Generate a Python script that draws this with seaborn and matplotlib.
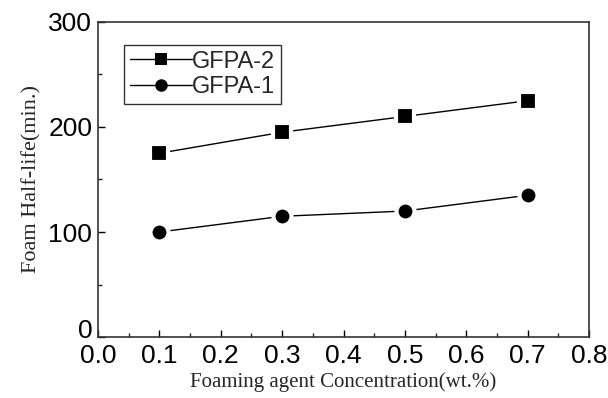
import matplotlib
matplotlib.use("Agg")
import matplotlib.pyplot as plt
import matplotlib.transforms as mtransforms
import seaborn as sns
import pandas as pd
from matplotlib.ticker import MultipleLocator

concentration = [0.1, 0.3, 0.5, 0.7]
gfpa2 = [175, 195, 210, 225]
gfpa1 = [100, 115, 120, 135]
series_names = ["GFPA-2", "GFPA-1"]

df = pd.DataFrame({
    "x": concentration * 2,
    "y": gfpa2 + gfpa1,
    "series": [series_names[0]] * 4 + [series_names[1]] * 4,
})

sns.set_style("ticks")
plt.rcParams["font.family"] = ["Liberation Sans", "DejaVu Sans"]

fig = plt.figure(figsize=(6.08, 3.98), dpi=100)
ax = fig.add_axes([0.161, 0.153, 0.808, 0.792])

sns.lineplot(data=df, x="x", y="y", hue="series", style="series",
             markers={"GFPA-2": "s", "GFPA-1": "o"}, dashes=False,
             palette={"GFPA-2": "black", "GFPA-1": "black"},
             linewidth=1.0, markersize=13, markeredgecolor="white",
             markeredgewidth=3, ax=ax)

ax.set_xlim(0.0, 0.8)
ax.set_ylim(0, 300)
ax.xaxis.set_major_locator(MultipleLocator(0.1))
ax.xaxis.set_minor_locator(MultipleLocator(0.05))
ax.yaxis.set_major_locator(MultipleLocator(100))
ax.yaxis.set_minor_locator(MultipleLocator(50))
ax.tick_params(which="major", direction="in", length=5, width=1, labelsize=19, colors="black")
ax.tick_params(axis="x", which="major", pad=5)
ax.tick_params(axis="y", which="major", pad=4)
ax.tick_params(which="minor", direction="in", length=3, width=1)
ax.tick_params(axis="x", which="both", top=False)
ax.tick_params(axis="y", which="both", right=False)
for s in ax.spines.values():
    s.set_linewidth(1.2)
    s.set_color("#333333")
    s.set_visible(True)

ax.set_xlabel("Foaming agent Concentration(wt.%)", family=["Liberation Serif"], fontsize=15, labelpad=3)
ax.set_ylabel("Foam Half-life(min.)", family=["Liberation Serif"], fontsize=16, labelpad=5)

# nudge the y "0" label upward slightly as in the reference
fig.canvas.draw()
for lbl in ax.get_yticklabels():
    if lbl.get_text() == "0":
        lbl.set_transform(lbl.get_transform() + mtransforms.ScaledTranslation(0, 6 / 72, fig.dpi_scale_trans))

leg = ax.legend(title=None, loc="upper left", bbox_to_anchor=(0.03, 0.965),
                fontsize=17, frameon=True, fancybox=False, edgecolor="black",
                handlelength=2.6, handletextpad=0.0, borderpad=0.25, labelspacing=0.15)
leg.get_frame().set_linewidth(1.0)
for h in leg.legend_handles:
    h.set_markeredgecolor("black")
    h.set_markeredgewidth(0)
    h.set_markersize(9)

fig.savefig("out.png", dpi=100)
